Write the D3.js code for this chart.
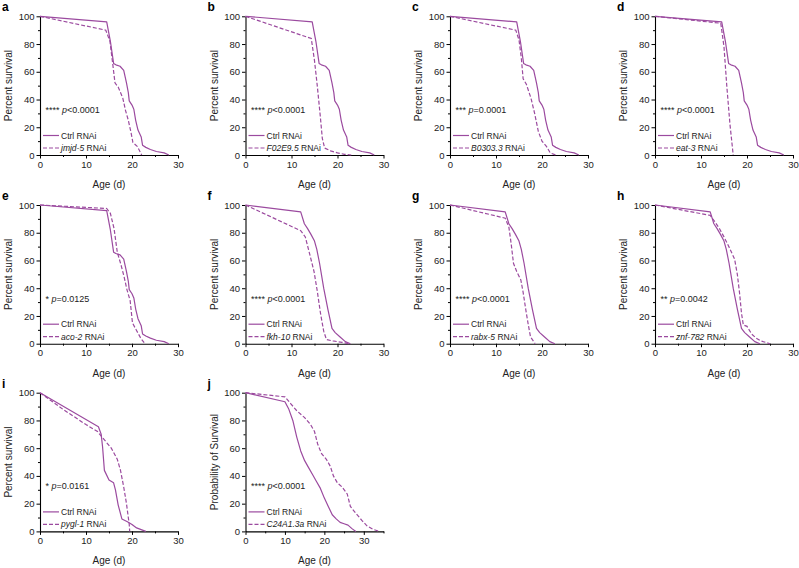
<!DOCTYPE html>
<html>
<head>
<meta charset="utf-8">
<script src="https://cdn.jsdelivr.net/npm/d3@7"></script>
<style>
  html, body { margin: 0; padding: 0; background: #fff; }
  svg { display: block; font-family: "Liberation Sans", Arial, sans-serif; }
</style>
</head>
<body>
<svg id="chart" width="799" height="568"></svg>
<script>
// ---------- DATA (day, percent survival) ----------
const ctrlAE = [[0,100],[14.5,96],[15.3,82],[16,66],[16.5,65],[17.4,64],[18.2,61],[18.8,52],[19.2,45],[19.4,39],[20,36],[20.4,33],[20.8,25],[21.3,18],[22,13],[22.3,7],[23,5.5],[24,4],[25.3,2.5],[27,1.5],[28,0]];
const ctrlFH = [[0,100],[12,95],[12.8,86.5],[13.5,83],[14.2,79],[15,74],[15.5,68],[16.1,58],[17,40],[17.9,25],[18.8,11],[19.5,8],[20.5,5],[21.7,1.5],[22.8,0]];
const ctrlI = [[0,100],[12.7,75.5],[13.3,70],[13.6,61],[14,44],[15,37],[16,35],[16.4,30],[17,19],[17.8,9],[19,7],[20,5],[21,2.5],[23,0]];
const ctrlJ = [[0,100],[10,93.5],[11,88],[12,80],[13,68],[14,58],[15,51],[16,46],[17,41],[18,36],[19,31],[20,24],[21,18],[22,12],[23,9],[24,6.5],[25,5.5],[26,4.5],[27,2],[28,0]];

const jmjd5 = [[0,100],[14.3,90],[15.2,82],[15.8,66],[16.3,52],[17,49],[18,41],[18.6,32],[19.2,25],[19.8,16],[20.2,9],[21.2,6],[22.1,0]];
const f02e95 = [[0,100],[14.3,84],[15,68],[15.6,50],[16.2,30],[16.7,12],[17.2,5],[18.5,3],[20,1.5],[21.5,0.5],[23,0]];
const b03033 = [[0,100],[14.3,90],[15,83],[15.5,70],[15.9,55],[16.6,51],[17.6,41],[18.4,30],[19.2,17],[20,10],[21,6],[21.8,1.5],[23,0]];
const eat3 = [[0,100],[14.3,95],[15,78],[15.6,50],[16.3,22],[17,0]];
const aco2 = [[0,100],[14.5,97.5],[15.3,94],[16.1,83],[16.8,66],[17.6,57],[18.3,48],[18.9,39],[19.6,31],[20.1,15],[20.9,10],[21.9,4],[22.8,0]];
const fkh10 = [[0,100],[12,81.5],[13,77],[14,64],[14.9,52],[15.6,38],[16.3,22],[17,9],[17.6,3],[19,2],[21,1],[22.5,0]];
const rabx5 = [[0,100],[12,90.5],[12.8,84],[13.3,72],[13.8,58],[14.5,52],[15.4,46],[15.9,37],[16.5,24],[17,14],[17.5,5],[18.5,0]];
const znf782 = [[0,100],[12,92.5],[13,88],[14,83],[15,77],[16.2,69],[17.3,61],[17.9,50],[18.4,36],[18.8,22],[19.2,13.5],[20,12.5],[21,7],[22,4],[23,2],[25,0]];
const pygl1 = [[0,100],[5,88],[10,77],[12.5,72],[14,66],[15.5,60],[16.8,52],[17.5,44],[18.2,32],[18.8,20],[19.4,5],[19.5,0]];
const c24a13a = [[0,100],[10,97],[11.5,92],[13,87],[15,82],[16.5,77],[17.5,72],[18.3,63],[19.3,56],[20.5,52],[21.5,47],[22.3,40],[23.3,35],[24.5,32],[25.8,27],[26.6,18],[28,13],[29.5,8],[30.8,4],[32.3,1.5],[34,0]];

const panelLetters = ["a","b","c","d","e","f","g","h","i","j"];
const geneNames = ["jmjd-5","F02E9.5","B0303.3","eat-3","aco-2","fkh-10","rabx-5","znf-782","pygl-1","C24A1.3a"];
const treatSeries = [jmjd5, f02e95, b03033, eat3, aco2, fkh10, rabx5, znf782, pygl1, c24a13a];
const ctrlSeries = [ctrlAE, ctrlAE, ctrlAE, ctrlAE, ctrlAE, ctrlFH, ctrlFH, ctrlFH, ctrlI, ctrlJ];
const pStars = ["****","****","***","****","*","****","****","**","*","****"];
const pValues = ["p<0.0001","p<0.0001","p=0.0001","p<0.0001","p=0.0125","p<0.0001","p<0.0001","p=0.0042","p=0.0161","p<0.0001"];
const yTitles = ["Percent survival","Percent survival","Percent survival","Percent survival","Percent survival","Percent survival","Percent survival","Percent survival","Percent survival","Probability of Survival"];
const xMaxes = [30,30,30,30,30,30,30,30,30,35];
const xTicksMajor = [0,10,20,30];
const yTicksMajor = [0,20,40,60,80,100];
const ctrlLabel = "Ctrl RNAi";
const xTitle = "Age (d)";

// ---------- LAYOUT ----------
const colX = [40, 245.5, 450, 655];
const rowTop = [16.3, 205, 392.7];
const plotW = 138, plotH = 138.7;
const purple = "#9b4a9f";

const svg = d3.select("#chart");

panelLetters.forEach((letter, i) => {
  const col = i % 4, row = Math.floor(i / 4);
  const x0 = colX[col], y0 = rowTop[row];
  const xMax = xMaxes[i];
  const x = d3.scaleLinear().domain([0, xMax]).range([x0, x0 + plotW]);
  const y = d3.scaleLinear().domain([0, 100]).range([y0 + plotH, y0]);
  const g = svg.append("g");

  const xMinor = d3.range(5, xMax + 0.1, 10);
  const yMinor = d3.range(10, 100, 20);

  g.append("g").attr("transform", `translate(0,${y0 + plotH})`)
    .call(d3.axisBottom(x).tickValues(xTicksMajor).tickSize(3.5).tickSizeOuter(0).tickPadding(2.5).tickFormat(d3.format("d")));
  g.append("g").attr("transform", `translate(0,${y0 + plotH})`)
    .call(d3.axisBottom(x).tickValues(xMinor).tickSize(2).tickSizeOuter(0).tickFormat(""))
    .call(s => s.select(".domain").remove());
  g.append("g").attr("transform", `translate(${x0},0)`)
    .call(d3.axisLeft(y).tickValues(yTicksMajor).tickSize(3.5).tickSizeOuter(0).tickPadding(2).tickFormat(d3.format("d")));
  g.append("g").attr("transform", `translate(${x0},0)`)
    .call(d3.axisLeft(y).tickValues(yMinor).tickSize(2).tickSizeOuter(0).tickFormat(""))
    .call(s => s.select(".domain").remove());

  g.selectAll(".domain").attr("stroke", "#000").attr("stroke-width", 1.1);
  g.selectAll(".tick line").attr("stroke", "#000").attr("stroke-width", 1);
  g.selectAll(".tick text").attr("font-size", "9.5px").attr("fill", "#222")
    .attr("font-family", "Liberation Sans, Arial, sans-serif");

  g.append("text").attr("x", x0 + plotW / 2).attr("y", y0 + plotH + 33)
    .attr("text-anchor", "middle").attr("font-size", "10px").attr("fill", "#222").text(xTitle);
  g.append("text")
    .attr("transform", `translate(${x0 - 28},${y0 + plotH / 2}) rotate(-90)`)
    .attr("text-anchor", "middle").attr("font-size", "10px").attr("fill", "#222").text(yTitles[i]);

  g.append("text").attr("x", x0 - 38).attr("y", y0 - 5)
    .attr("font-size", "12px").attr("font-weight", "bold").attr("fill", "#000").text(letter);

  const line = d3.line().x(d => x(d[0])).y(d => y(d[1]));
  g.append("path").datum(ctrlSeries[i]).attr("d", line)
    .attr("fill", "none").attr("stroke", purple).attr("stroke-width", 1.2).attr("stroke-linejoin", "round");
  g.append("path").datum(treatSeries[i]).attr("d", line)
    .attr("fill", "none").attr("stroke", purple).attr("stroke-width", 1.2).attr("stroke-dasharray", "4,2");

  const pt = g.append("text").attr("x", x0 + 5.5).attr("y", y0 + plotH - 42)
    .attr("font-size", "9px").attr("fill", "#222");
  pt.append("tspan").text(pStars[i] + " ");
  pt.append("tspan").attr("font-style", "italic").text(pValues[i].slice(0, 1));
  pt.append("tspan").text(pValues[i].slice(1));

  const ly1 = y0 + plotH - 19.5, ly2 = y0 + plotH - 7;
  g.append("line").attr("x1", x0 + 3).attr("x2", x0 + 19).attr("y1", ly1).attr("y2", ly1)
    .attr("stroke", purple).attr("stroke-width", 1.2);
  g.append("line").attr("x1", x0 + 3).attr("x2", x0 + 19).attr("y1", ly2).attr("y2", ly2)
    .attr("stroke", purple).attr("stroke-width", 1.2).attr("stroke-dasharray", "4,2");
  g.append("text").attr("x", x0 + 21).attr("y", ly1 + 3)
    .attr("font-size", "8.5px").attr("fill", "#222").text(ctrlLabel);
  const lt = g.append("text").attr("x", x0 + 21).attr("y", ly2 + 3)
    .attr("font-size", "8.5px").attr("fill", "#222");
  lt.append("tspan").attr("font-style", "italic").text(geneNames[i]);
  lt.append("tspan").text(" RNAi");
});
</script>
</body>
</html>
